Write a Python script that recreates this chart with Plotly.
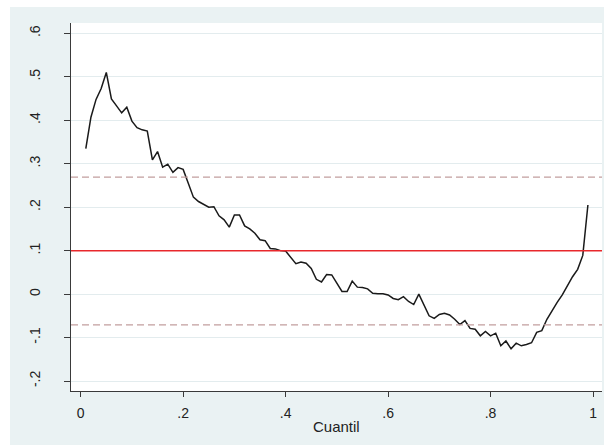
import plotly.graph_objects as go

# Quantile grid and estimated coefficient at each quantile
cuantil = [round(0.01 * i, 2) for i in range(1, 100)]
coef = [
    0.335, 0.407, 0.448, 0.473, 0.510, 0.449, 0.433, 0.417, 0.430, 0.398,
    0.383, 0.378, 0.375, 0.309, 0.328, 0.292, 0.299, 0.280, 0.291, 0.287,
    0.255, 0.223, 0.213, 0.206, 0.200, 0.201, 0.180, 0.171, 0.154, 0.182,
    0.182, 0.157, 0.150, 0.140, 0.125, 0.123, 0.105, 0.104, 0.100, 0.099,
    0.084, 0.070, 0.074, 0.071, 0.059, 0.034, 0.028, 0.045, 0.044, 0.025,
    0.006, 0.006, 0.030, 0.016, 0.015, 0.012, 0.002, 0.001, 0.001, -0.002,
    -0.010, -0.013, -0.006, -0.017, -0.024, 0.000, -0.027, -0.050, -0.056, -0.047,
    -0.044, -0.048, -0.058, -0.070, -0.061, -0.079, -0.081, -0.096, -0.086, -0.096,
    -0.090, -0.119, -0.108, -0.126, -0.113, -0.119, -0.116, -0.112, -0.088, -0.084,
    -0.058, -0.038, -0.019, -0.002, 0.019, 0.040, 0.057, 0.089, 0.205,
]

# OLS estimate and its confidence bounds
ols = 0.100
ci_upper = 0.269
ci_lower = -0.071

y_ticks = [-0.2, -0.1, 0, 0.1, 0.2, 0.3, 0.4, 0.5, 0.6]
y_labels = ["-.2", "-.1", "0", ".1", ".2", ".3", ".4", ".5", ".6"]
x_ticks = [0, 0.2, 0.4, 0.6, 0.8, 1]
x_labels = ["0", ".2", ".4", ".6", ".8", "1"]

BG = "#EAF2F3"
GRID = "#E3ECEE"
AXIS = "#3A3A3A"
FONT = "Liberation Sans, Arial, sans-serif"

fig = go.Figure()
fig.add_trace(go.Scatter(
    x=cuantil, y=coef, mode="lines",
    line=dict(color="#1A1A1A", width=1.5),
    showlegend=False, hoverinfo="skip",
))

# Reference lines: OLS estimate and confidence bounds
fig.add_shape(type="line", xref="paper", x0=0, x1=1, yref="y", y0=ols, y1=ols,
              line=dict(color="#E8282C", width=1.5), layer="above")
for v in (ci_upper, ci_lower):
    fig.add_shape(type="line", xref="paper", x0=0, x1=1, yref="y", y0=v, y1=v,
                  line=dict(color="#C29E9E", width=1.3, dash="7px,4px"), layer="above")

# White margin strips around the graph region
fig.add_shape(type="rect", xref="paper", yref="paper", x0=-0.2, x1=1.1,
              y0=1.0435, y1=1.2, fillcolor="white", line_width=0, layer="above")
fig.add_shape(type="rect", xref="paper", yref="paper", x0=-0.2, x1=-0.1149,
              y0=-0.3, y1=1.2, fillcolor="white", line_width=0, layer="above")

fig.add_annotation(text="Cuantil", xref="paper", yref="paper", x=0.5, y=-0.0955,
                   yanchor="middle", xanchor="center", showarrow=False,
                   font=dict(family=FONT, size=15, color="#222222"))

fig.update_layout(
    width=604, height=445,
    margin=dict(l=71, r=2, t=23, b=54),
    paper_bgcolor=BG, plot_bgcolor="white",
    font=dict(family=FONT, size=14, color="#222222"),
    xaxis=dict(
        range=[-0.0189, 1.0175], tickvals=x_ticks, ticktext=x_labels,
        showgrid=False, zeroline=False, showline=True, linecolor=AXIS, linewidth=1,
        ticks="outside", ticklen=5, tickcolor=AXIS, tickwidth=1,
        ticklabelstandoff=4,
    ),
    yaxis=dict(
        range=[-0.2230, 0.6238], tickvals=y_ticks, ticktext=y_labels,
        showgrid=True, gridcolor=GRID, gridwidth=1, zeroline=False,
        showline=True, linecolor=AXIS, linewidth=1,
        ticks="outside", ticklen=6, tickcolor=AXIS, tickwidth=1,
        tickangle=-90, ticklabelstandoff=18,
    ),
)

fig.write_html("out.html")
